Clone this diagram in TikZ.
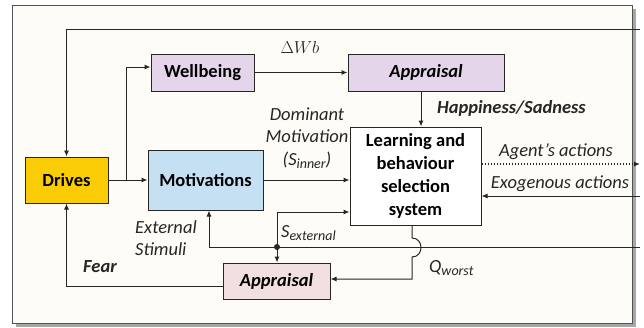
\documentclass[tikz,border=0pt]{standalone}
\usepackage{fontspec}
\setmainfont{Carlito}
\usetikzlibrary{arrows.meta}
\definecolor{bgc}{HTML}{FDFCF7}
\definecolor{shadowc}{HTML}{A6A6A6}
\definecolor{drivesc}{HTML}{FACC05}
\definecolor{wellc}{HTML}{E4D5EA}
\definecolor{motc}{HTML}{C6E0F3}
\definecolor{apprc}{HTML}{F2DFDF}
\definecolor{linec}{HTML}{262626}
\newcommand{\mysub}[1]{\raisebox{-0.35ex}{\fontsize{14}{14}\selectfont #1}}
\tikzset{
  box/.style={draw=linec, line width=1pt, rectangle, inner sep=0pt,
    font=\fontsize{18.5}{23}\selectfont\bfseries, align=center},
  conn/.style={draw=linec, line width=1pt, -{Latex[length=6pt,width=5pt]}},
  lbl/.style={inner sep=0pt, font=\fontsize{18.5}{22.5}\selectfont\itshape, text=linec},
  blbl/.style={inner sep=0pt, font=\fontsize{18.5}{22}\selectfont\bfseries\itshape, text=linec}
}
\begin{document}
\begin{tikzpicture}[x=1pt,y=-1pt]
\useasboundingbox (0,0) rectangle (644,327);
% frame
\fill[shadowc] (16,9) rectangle (636,327);
\filldraw[fill=bgc, draw=linec!80, line width=0.8pt] (12,5) rectangle (632,323);

% nodes
\node[box, fill=drivesc, minimum width=83pt, minimum height=46pt] (drives) at (66.5,180) {Drives};
\node[box, fill=wellc, minimum width=103pt, minimum height=37pt] (wellbeing) at (202.5,72.5) {Wellbeing};
\node[box, fill=wellc, minimum width=156pt, minimum height=37pt, font=\fontsize{18.5}{23}\selectfont\bfseries\itshape] (appr1) at (426,72.5) {Appraisal};
\node[box, fill=motc, minimum width=115pt, minimum height=60pt] (motiv) at (205.5,180) {Motivations};
\node[box, fill=white, minimum width=131pt, minimum height=98pt] (learn) at (415.5,176) {Learning and\\behaviour\\selection\\system};
\node[box, fill=apprc, minimum width=107pt, minimum height=36pt, font=\fontsize{18.5}{23}\selectfont\bfseries\itshape] (appr2) at (276.5,281) {Appraisal};

% coordinates
\coordinate (topR) at (640,29);
\coordinate (br) at (126,180);
\coordinate (jn) at (277,247);
\coordinate (extR) at (640,247);
\coordinate (agR) at (640,164);
\coordinate (exR) at (640,196);
\coordinate (qa) at (412,238);
\coordinate (qb) at (412,257);

% connectors
\draw[conn] (topR) -| (drives.north);
\draw[conn] (drives.east) -- (motiv.west);
\draw[conn] (br) |- ([yshift=5.5pt]wellbeing.west);
\draw[conn] (wellbeing.east) -- (appr1.west);
\draw[conn] ([xshift=-5pt]appr1.south) -- ([xshift=-5pt]appr1.south |- learn.north);
\draw[conn] (motiv.east) -- (motiv.east -| learn.west);
\draw[conn] (jn) |- (learn.west |- 0,212);
\draw[conn] (extR) -| (motiv.south -| 209,0);
\draw[conn] (jn) -- (jn |- appr2.north);
\fill[linec] (jn) circle (3pt);
\draw[conn] (learn.south -| qa) -- (qa) .. controls (424,238) and (424,257) .. (qb) |- (appr2.east |- 0,279);
\draw[conn] ([yshift=-5pt]appr2.west) -| (drives.south);
\draw[conn, dotted, line width=1.3pt] (learn.east |- agR) -- (agR);
\draw[conn] (exR) -- (exR -| learn.east);

% labels
\node[lbl, font=\fontsize{18}{22}\selectfont] (dwb) at (300,47) {$\Delta Wb$};
\node[blbl, anchor=west] (hs) at (437,108) {Happiness/Sadness};
\node[lbl, align=center] (dm) at (307,138) {Dominant\\Motivation\\(S\mysub{inner})};
\node[lbl, align=left, anchor=west] (es) at (135,238) {External\\Stimuli};
\node[lbl, anchor=west] (sext) at (281,233) {S\mysub{external}};
\node[lbl, anchor=west] (qw) at (429,268) {Q\mysub{worst}};
\node[blbl] (fear) at (100,267) {Fear};
\node[lbl] (ag) at (556,152) {Agent’s actions};
\node[lbl] (ex) at (560,184) {Exogenous actions};
\end{tikzpicture}
\end{document}
